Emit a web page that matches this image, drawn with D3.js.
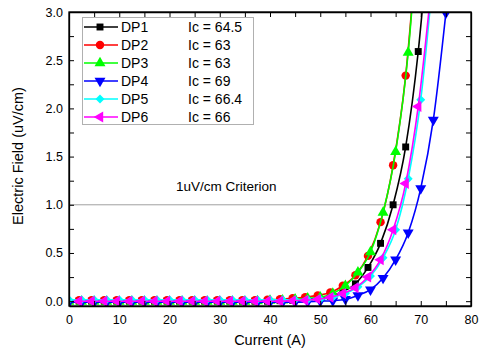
<!DOCTYPE html>
<html>
<head>
<meta charset="utf-8">
<script src="https://cdn.jsdelivr.net/npm/d3@7"></script>
<style>
  body { margin: 0; background: #fff; }
  text { font-family: "Liberation Sans", Arial, sans-serif; fill: #000; }
</style>
</head>
<body>
<svg id="chart" width="481" height="352"></svg>
<script>
// Data
const currentA = [0, 2.5, 5, 7.5, 10, 12.5, 15, 17.5, 20, 22.5, 25, 27.5, 30, 32.5, 35, 37.5, 40, 42.5, 45, 47.5, 50, 52.5, 55, 57.5, 60, 62.5, 65, 67.5, 70, 72.5, 75];
const currentB = [2, 4.5, 7, 9.5, 12, 14.5, 17, 19.5, 22, 24.5, 27, 29.5, 32, 34.5, 37, 39.5, 42, 44.5, 47, 49.5, 52, 54.5, 57, 59.5, 62, 64.5, 67, 69.5, 72];

const dp1 = [0, 0, 0, 0, 0, 0, 0, 0, 0, 0, 0, 0, 0, 0, 0, 0, 0.005, 0.01, 0.02, 0.03, 0.05, 0.1, 0.18, 0.35, 0.6, 1.0, 1.6, 2.59, 4.05];
const dp2 = [0.01, 0.01, 0.01, 0.01, 0.01, 0.01, 0.01, 0.01, 0.01, 0.01, 0.01, 0.01, 0.01, 0.01, 0.01, 0.015, 0.02, 0.03, 0.04, 0.06, 0.09, 0.16, 0.27, 0.47, 0.82, 1.41, 2.34, 3.9];
const dp3 = [-0.005, -0.005, -0.005, -0.005, -0.005, -0.005, -0.005, -0.005, -0.005, -0.005, -0.005, -0.005, -0.005, -0.005, -0.005, 0, 0.005, 0.01, 0.02, 0.03, 0.04, 0.08, 0.16, 0.3, 0.51, 0.92, 1.55, 2.58, 4.3];
const dp4 = [-0.01, -0.01, -0.01, -0.01, -0.01, -0.01, -0.01, -0.01, -0.01, -0.01, -0.01, -0.01, -0.01, -0.01, -0.01, -0.01, -0.01, -0.01, -0.01, -0.005, 0, 0.005, 0.02, 0.06, 0.12, 0.24, 0.43, 0.71, 1.17, 1.88, 2.99];
const dp5 = [0.015, 0.015, 0.015, 0.015, 0.015, 0.015, 0.015, 0.015, 0.015, 0.015, 0.015, 0.015, 0.015, 0.015, 0.015, 0.015, 0.015, 0.015, 0.015, 0.015, 0.02, 0.04, 0.08, 0.15, 0.26, 0.45, 0.74, 1.27, 2.09, 3.4];
const dp6 = [0, 0, 0, 0, 0, 0, 0, 0, 0, 0, 0, 0, 0, 0, 0, 0, 0, 0.005, 0.01, 0.02, 0.04, 0.08, 0.14, 0.25, 0.43, 0.74, 1.22, 2.02, 3.2];

const names = ["DP1", "DP2", "DP3", "DP4", "DP5", "DP6"];
const icLabels = ["Ic = 64.5", "Ic = 63", "Ic = 63", "Ic = 69", "Ic = 66.4", "Ic = 66"];
const colors = ["#000000", "#ff0000", "#00ff00", "#0000ff", "#00ffff", "#ff00ff"];

const xTicks = [0, 10, 20, 30, 40, 50, 60, 70, 80];
const yTicks = [0.0, 0.5, 1.0, 1.5, 2.0, 2.5, 3.0];
const criterion = 1.0;

const series = [
    { name: names[0], xs: currentB, ys: dp1, sym: d3.symbolSquare, rot: 0, size: 48 },
    { name: names[1], xs: currentB, ys: dp2, sym: d3.symbolCircle, rot: 0, size: 56 },
    { name: names[2], xs: currentA, ys: dp3, sym: d3.symbolTriangle, rot: 0, size: 52 },
    { name: names[3], xs: currentA, ys: dp4, sym: d3.symbolTriangle, rot: 180, size: 52 },
    { name: names[4], xs: currentA, ys: dp5, sym: d3.symbolSquare, rot: 45, size: 40 },
    { name: names[5], xs: currentB, ys: dp6, sym: d3.symbolTriangle, rot: -90, size: 52 },
];
series.forEach((s, i) => {
    s.color = colors[i];
    s.ic = icLabels[i];
    s.points = s.ys.map((v, j) => ({ x: s.xs[j], y: v }));
});

const width = 481, height = 352;
const margin = { top: 12, right: 10, bottom: 46, left: 69 };

const $svg = d3.select("#chart");

const x = d3.scaleLinear().domain([0, 80]).range([margin.left, width - margin.right]);
const y = d3.scaleLinear().domain([-0.05, 3.0]).range([height - margin.bottom, margin.top]);

// clip
$svg.append("defs").append("clipPath").attr("id", "plot-clip")
  .append("rect")
    .attr("x", margin.left).attr("y", margin.top)
    .attr("width", x.range()[1] - margin.left)
    .attr("height", y.range()[0] - margin.top);

// criterion line
$svg.append("line")
    .attr("x1", x(0)).attr("x2", x(80))
    .attr("y1", y(criterion)).attr("y2", y(criterion))
    .attr("stroke", "#a0a0a0").attr("stroke-width", 1);

$svg.append("text")
    .attr("x", x(21.3)).attr("y", y(criterion) - 14)
    .attr("font-size", 13.5)
    .text("1uV/cm Criterion");

// data
const line = d3.line()
    .x(d => x(d.x))
    .y(d => y(d.y))
    .curve(d3.curveMonotoneX);

const $view = $svg.append("g").attr("clip-path", "url(#plot-clip)");

series.forEach(s => {
    const g = $view.append("g");
    g.append("path")
        .datum(s.points)
        .attr("fill", "none")
        .attr("stroke", s.color)
        .attr("stroke-width", 1.6)
        .attr("d", line);
    g.selectAll("path.m")
      .data(s.points)
      .join("path")
        .attr("class", "m")
        .attr("d", d3.symbol().type(s.sym).size(s.size))
        .attr("fill", s.color)
        .attr("transform", d => `translate(${x(d.x)},${y(d.y)}) rotate(${s.rot})`);
});

// axes (ticks inward)
const xMinor = d3.range(0, 81, 5);
const yMinor = d3.range(0, 3.01, 0.25);
const $axes = $svg.append("g");

const xAxisBottom = d3.axisBottom(x).tickValues(xMinor).tickSizeInner(-5).tickSizeOuter(0)
    .tickFormat(d => xTicks.includes(d) ? d : "");
$axes.append("g").attr("transform", `translate(0,${y.range()[0]})`).call(xAxisBottom)
    .call(g => g.selectAll(".tick text").attr("y", 9).attr("font-size", 12.5)
        .attr("font-family", "Liberation Sans, Arial, sans-serif"));

const xAxisTop = d3.axisTop(x).tickValues(xMinor).tickSizeInner(-5).tickSizeOuter(0).tickFormat("");
$axes.append("g").attr("transform", `translate(0,${margin.top})`).call(xAxisTop);

const yAxisLeft = d3.axisLeft(y).tickValues(yMinor).tickSizeInner(-5).tickSizeOuter(0)
    .tickFormat(d => yTicks.some(t => Math.abs(t - d) < 1e-9) ? d3.format(".1f")(d) : "");
$axes.append("g").attr("transform", `translate(${margin.left},0)`).call(yAxisLeft)
    .call(g => g.selectAll(".tick text").attr("x", -6).attr("font-size", 12.5)
        .attr("font-family", "Liberation Sans, Arial, sans-serif"));

const yAxisRight = d3.axisRight(y).tickValues(yMinor).tickSizeInner(-5).tickSizeOuter(0).tickFormat("");
$axes.append("g").attr("transform", `translate(${x.range()[1]},0)`).call(yAxisRight);

$axes.selectAll(".domain").attr("stroke", "#000").attr("stroke-width", 1.3);
$axes.selectAll(".tick line").attr("stroke", "#000").attr("stroke-width", 1);

// frame lines so the box is closed
$svg.append("rect")
    .attr("x", margin.left).attr("y", margin.top)
    .attr("width", x.range()[1] - margin.left)
    .attr("height", y.range()[0] - margin.top)
    .attr("fill", "none").attr("stroke", "#000").attr("stroke-width", 1.3);

// axis titles
$svg.append("text")
    .attr("x", (x.range()[0] + x.range()[1]) / 2)
    .attr("y", 345)
    .attr("text-anchor", "middle")
    .attr("font-size", 14.5)
    .text("Current (A)");

$svg.append("text")
    .attr("transform", `translate(23,156) rotate(-90)`)
    .attr("text-anchor", "middle")
    .attr("font-size", 14.5)
    .text("Electric Field (uV/cm)");

// legend
const $legend = $svg.append("g");
$legend.append("rect")
    .attr("x", 82.5).attr("y", 17.5)
    .attr("width", 171).attr("height", 107)
    .attr("fill", "#fff").attr("stroke", "#b0b0b0").attr("stroke-width", 1);

series.forEach((s, i) => {
    const cy = 27 + i * 18;
    const g = $legend.append("g");
    g.append("line")
        .attr("x1", 84).attr("x2", 118).attr("y1", cy).attr("y2", cy)
        .attr("stroke", s.color).attr("stroke-width", 1.6);
    g.append("path")
        .attr("d", d3.symbol().type(s.sym).size(s.size))
        .attr("fill", s.color)
        .attr("transform", `translate(100,${cy}) rotate(${s.rot})`);
    g.append("text").attr("x", 121).attr("y", cy + 5).attr("font-size", 14).text(s.name);
    g.append("text").attr("x", 188).attr("y", cy + 5).attr("font-size", 14).text(s.ic);
});
</script>
</body>
</html>
